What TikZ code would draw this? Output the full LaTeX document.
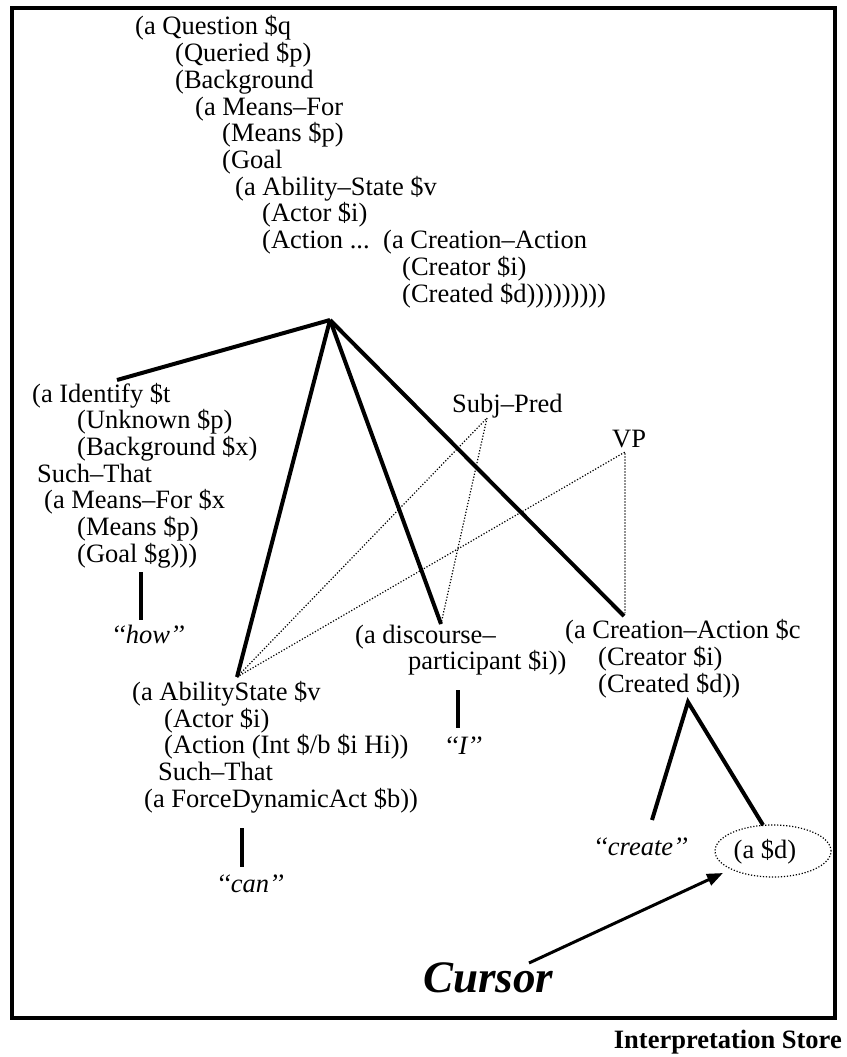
\documentclass[tikz,border=0pt]{standalone}
\usepackage{fontspec}
\setmainfont{Liberation Serif}
\usetikzlibrary{arrows.meta,shapes.geometric}
\begin{document}
\begin{tikzpicture}[x=1pt,y=-1pt,
  txt/.style={anchor=base west, inner sep=0pt, font=\fontsize{26.5}{26.7}\selectfont},
  word/.style={anchor=base, inner sep=0pt, font=\fontsize{26.5}{26.7}\selectfont\itshape},
  bold/.style={line width=4pt},
  dot/.style={line width=1.2pt, dash pattern=on 1.2pt off 1.8pt}]
\useasboundingbox (0,0) rectangle (846,1057);
\draw[line width=4pt] (12,8) rectangle (835,1018);
% top block
\node[txt] (q1) at (135,35) {(a Question \$q};
\node[txt] (q2) at (175,61.7) {(Queried \$p)};
\node[txt] (q3) at (175,88.4) {(Background};
\node[txt] (q4) at (195,115.1) {(a Means–For};
\node[txt] (q5) at (222,141.8) {(Means \$p)};
\node[txt] (q6) at (222,168.5) {(Goal};
\node[txt] (q7) at (235,195.2) {(a Ability–State \$v};
\node[txt] (q8) at (262,221.9) {(Actor \$i)};
\node[txt] (q9) at (262,248.6) {(Action ...};
\node[txt] (q9b) at (383,248.6) {(a Creation–Action};
\node[txt] (q10) at (402,275.3) {(Creator \$i)};
\node[txt] (q11) at (402,302) {(Created \$d)))))))))};
\coordinate (top) at (330,320);
% identify block
\node[txt] (i1) at (32,402) {(a Identify \$t};
\node[txt] (i2) at (77,428.7) {(Unknown \$p)};
\node[txt] (i3) at (77,455.4) {(Background \$x)};
\node[txt] (i4) at (37,482) {Such–That};
\node[txt] (i5) at (44,508.8) {(a Means–For \$x};
\node[txt] (i6) at (77,535.5) {(Means \$p)};
\node[txt] (i7) at (77,562) {(Goal \$g)))};
\coordinate (idtop) at (117,380);
\coordinate (howtop) at (141,572);
\coordinate (howbot) at (141,620);
\node[word] (how) at (148,643) {‘‘how’’};
% ability block
\node[txt] (a1) at (132,700) {(a AbilityState \$v};
\node[txt] (a2) at (164,727) {(Actor \$i)};
\node[txt] (a3) at (164,753.5) {(Action (Int \$/b \$i Hi))};
\node[txt] (a4) at (158,780) {Such–That};
\node[txt] (a5) at (144,807) {(a ForceDynamicAct \$b))};
\coordinate (abtop) at (237,677);
\coordinate (cantop) at (242,828);
\coordinate (canbot) at (242,867);
\node[word] (can) at (250,892) {‘‘can’’};
% discourse block
\node[txt] (d1) at (355,643) {(a discourse–};
\node[txt] (d2) at (408,669) {participant \$i))};
\coordinate (dtop) at (441,624);
\coordinate (itop) at (458,690);
\coordinate (ibot) at (458,728);
\node[word] (I) at (463,754) {‘‘I’’};
% creation block
\node[txt] (c1) at (565,638) {(a Creation–Action \$c};
\node[txt] (c2) at (598,665) {(Creator \$i)};
\node[txt] (c3) at (598,692) {(Created \$d))};
\coordinate (ctop) at (624,616);
\coordinate (capex) at (688,702);
\coordinate (createtop) at (652,820);
\node[word, anchor=base west] (create) at (593,855) {‘‘create’’};
\node[draw, dot, ellipse, minimum width=116pt, minimum height=52pt, inner sep=0pt] (ell) at (773,851) {};
\node[inner sep=0pt, anchor=base, font=\fontsize{26.5}{26.7}\selectfont] (ad) at (765,858) {(a \$d)};
\coordinate (dtip) at (763,825);
% labels
\node[txt] (sp) at (452,412) {Subj–Pred};
\node[txt] (vp) at (612,447) {VP};
\coordinate (spb) at (487,418);
\coordinate (vpb) at (625,452);
% bold tree lines
\draw[bold] (top) -- (idtop);
\draw[bold] (top) -- (abtop);
\draw[bold] (top) -- (dtop);
\draw[bold] (top) -- (ctop);
\draw[bold] (howtop) -- (howbot);
\draw[bold] (cantop) -- (canbot);
\draw[bold] (itop) -- (ibot);
\draw[bold] (createtop) -- (capex) -- (dtip);
% dotted syntax lines
\draw[dot] (abtop) -- (spb) -- (dtop);
\draw[dot] (abtop) -- (vpb) -- (625,613);
% cursor
\node[anchor=base west, inner sep=0pt, font=\fontsize{45}{45}\selectfont\bfseries\itshape] (cursor) at (423,992) {Cursor};
\coordinate (cstart) at (529,963);
\coordinate (cend) at (723,873);
\draw[line width=3pt, -{Triangle[length=16pt,width=12pt]}] (cstart) -- (cend);
\node[anchor=base east, inner sep=0pt, font=\fontsize{26.5}{26.7}\selectfont\bfseries] (store) at (842,1048) {Interpretation Store};
\end{tikzpicture}
\end{document}
